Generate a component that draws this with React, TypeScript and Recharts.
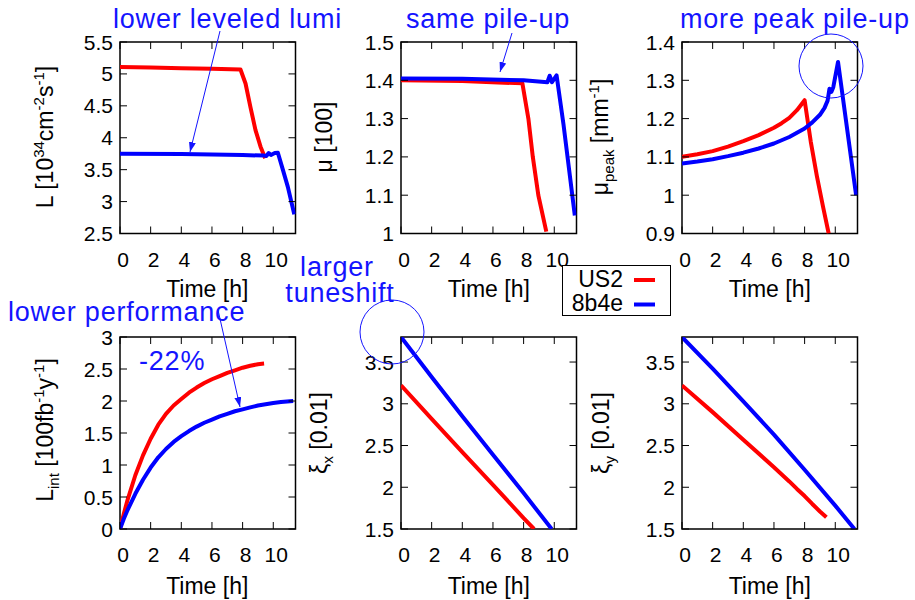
import React from 'react';
import { LineChart, Line, XAxis, YAxis, ReferenceArea } from 'recharts';

const seriesNames = ['US2', '8b4e'];
const seriesColors = ['#ff0000', '#0000ff'];
const timeTicks = [0, 2, 4, 6, 8, 10];
const X_MAX = 11.45;

// Panel 1: luminosity L [1e34 cm^-2 s^-1]
const lumiUS2 = [
  { t: 0, v: 5.11 }, { t: 2, v: 5.1 }, { t: 4, v: 5.09 }, { t: 6, v: 5.08 }, { t: 7.86, v: 5.07 },
  { t: 8.19, v: 4.85 }, { t: 8.51, v: 4.48 }, { t: 8.84, v: 4.12 }, { t: 9.17, v: 3.86 }, { t: 9.47, v: 3.68 },
];
const lumi8b4e = [
  { t: 0, v: 3.75 }, { t: 4, v: 3.745 }, { t: 8, v: 3.73 }, { t: 9.4, v: 3.72 }, { t: 9.55, v: 3.715 },
  { t: 9.7, v: 3.76 }, { t: 9.85, v: 3.73 }, { t: 10.1, v: 3.76 }, { t: 10.3, v: 3.765 },
  { t: 10.6, v: 3.52 }, { t: 10.95, v: 3.23 }, { t: 11.37, v: 2.8 },
];
const lumiTicks = [2.5, 3, 3.5, 4, 4.5, 5, 5.5];

// Panel 2: pile-up mu [100]
const muUS2 = [
  { t: 0, v: 1.4 }, { t: 4, v: 1.398 }, { t: 7.92, v: 1.392 }, { t: 8.31, v: 1.3 },
  { t: 8.6, v: 1.2 }, { t: 8.96, v: 1.1 }, { t: 9.48, v: 1.005 },
];
const mu8b4e = [
  { t: 0, v: 1.405 }, { t: 4, v: 1.404 }, { t: 8, v: 1.4 }, { t: 9.55, v: 1.395 }, { t: 9.7, v: 1.412 },
  { t: 9.85, v: 1.395 }, { t: 10.15, v: 1.413 }, { t: 10.6, v: 1.285 }, { t: 11.34, v: 1.047 },
];
const muTicks = [1, 1.1, 1.2, 1.3, 1.4, 1.5];

// Panel 3: peak pile-up density [mm^-1]
const peakUS2 = [
  { t: 0, v: 1.1 }, { t: 1, v: 1.107 }, { t: 2, v: 1.115 }, { t: 3, v: 1.127 }, { t: 4, v: 1.141 },
  { t: 5, v: 1.157 }, { t: 6, v: 1.176 }, { t: 6.5, v: 1.188 }, { t: 7, v: 1.202 }, { t: 7.5, v: 1.222 },
  { t: 8, v: 1.248 }, { t: 8.4, v: 1.14 }, { t: 8.8, v: 1.05 }, { t: 9.2, v: 0.97 }, { t: 9.57, v: 0.9 },
];
const peak8b4e = [
  { t: 0, v: 1.083 }, { t: 1, v: 1.088 }, { t: 2, v: 1.094 }, { t: 3, v: 1.102 }, { t: 4, v: 1.111 },
  { t: 5, v: 1.122 }, { t: 6, v: 1.135 }, { t: 7, v: 1.152 }, { t: 8, v: 1.174 }, { t: 8.5, v: 1.19 },
  { t: 9, v: 1.21 }, { t: 9.3, v: 1.228 }, { t: 9.5, v: 1.247 }, { t: 9.62, v: 1.278 }, { t: 9.75, v: 1.27 },
  { t: 9.87, v: 1.282 }, { t: 10.18, v: 1.348 }, { t: 11.36, v: 1.0 },
];
const peakTicks = [0.9, 1, 1.1, 1.2, 1.3, 1.4];

// Panel 4: integrated luminosity [100 fb^-1 y^-1]
const lintUS2 = [
  { t: 0, v: 0 }, { t: 0.25, v: 0.24 }, { t: 0.5, v: 0.46 }, { t: 1, v: 0.84 }, { t: 1.5, v: 1.15 },
  { t: 2, v: 1.41 }, { t: 2.5, v: 1.63 }, { t: 3, v: 1.8 }, { t: 3.5, v: 1.93 }, { t: 4, v: 2.03 },
  { t: 4.5, v: 2.13 }, { t: 5, v: 2.21 }, { t: 5.5, v: 2.28 }, { t: 6, v: 2.34 }, { t: 6.5, v: 2.39 },
  { t: 7, v: 2.44 }, { t: 7.5, v: 2.48 }, { t: 8, v: 2.52 }, { t: 8.5, v: 2.55 }, { t: 9, v: 2.575 },
  { t: 9.4, v: 2.585 },
];
const lint8b4e = [
  { t: 0, v: 0 }, { t: 0.25, v: 0.16 }, { t: 0.5, v: 0.3 }, { t: 1, v: 0.55 }, { t: 1.5, v: 0.77 },
  { t: 2, v: 0.96 }, { t: 2.5, v: 1.12 }, { t: 3, v: 1.25 }, { t: 3.5, v: 1.36 }, { t: 4, v: 1.45 },
  { t: 4.5, v: 1.53 }, { t: 5, v: 1.6 }, { t: 5.5, v: 1.66 }, { t: 6, v: 1.71 }, { t: 6.5, v: 1.76 },
  { t: 7, v: 1.8 }, { t: 7.5, v: 1.84 }, { t: 8, v: 1.87 }, { t: 8.5, v: 1.9 }, { t: 9, v: 1.93 },
  { t: 9.5, v: 1.95 }, { t: 10, v: 1.97 }, { t: 10.5, v: 1.985 }, { t: 11.3, v: 2.0 },
];
const lintTicks = [0, 0.5, 1, 1.5, 2, 2.5, 3];

// Panel 5: xi_x [0.01]
const xixUS2 = [
  { t: 0, v: 3.22 }, { t: 2, v: 2.82 }, { t: 4, v: 2.42 }, { t: 6, v: 2.03 }, { t: 8, v: 1.63 }, { t: 8.68, v: 1.5 },
];
const xix8b4e = [
  { t: 0, v: 3.8 }, { t: 2, v: 3.32 }, { t: 4, v: 2.85 }, { t: 6, v: 2.39 }, { t: 8, v: 1.93 }, { t: 9.83, v: 1.5 },
];
// Panel 6: xi_y [0.01]
const xiyUS2 = [
  { t: 0, v: 3.22 }, { t: 2, v: 2.9 }, { t: 4, v: 2.57 }, { t: 6, v: 2.24 }, { t: 7, v: 2.07 },
  { t: 7.5, v: 1.98 }, { t: 8, v: 1.895 }, { t: 8.5, v: 1.8 }, { t: 9, v: 1.71 }, { t: 9.42, v: 1.64 },
];
const xiy8b4e = [
  { t: 0, v: 3.8 }, { t: 2, v: 3.42 }, { t: 4, v: 3.03 }, { t: 6, v: 2.63 }, { t: 8, v: 2.21 },
  { t: 10, v: 1.78 }, { t: 11.25, v: 1.5 },
];
const xiTicks = [1.5, 2, 2.5, 3, 3.5];

const FONT = '"Liberation Sans", Arial, Helvetica, sans-serif';
const ANN = '#1414ff';

const fmt = (v: number) => String(Number(v.toFixed(2)));

function XTick(props: any) {
  const { x, y, payload, plotHeight } = props;
  return (
    <g>
      <line x1={x} y1={y} x2={x} y2={y - 7} stroke="#000" strokeWidth={1} />
      <line x1={x} y1={y - plotHeight} x2={x} y2={y - plotHeight + 7} stroke="#000" strokeWidth={1} />
      <text x={x + 3} y={y + 33} textAnchor="middle" fontSize={21} fontFamily={FONT} fill="#000">
        {fmt(payload.value)}
      </text>
    </g>
  );
}

function YTick(props: any) {
  const { x, y, payload, plotWidth } = props;
  return (
    <g>
      <line x1={x} y1={y} x2={x + 7} y2={y} stroke="#000" strokeWidth={1} />
      <line x1={x + plotWidth} y1={y} x2={x + plotWidth - 7} y2={y} stroke="#000" strokeWidth={1} />
      <text x={x - 7} y={y} dy="0.36em" textAnchor="end" fontSize={21} fontFamily={FONT} fill="#000">
        {fmt(payload.value)}
      </text>
    </g>
  );
}

type Pt = { t: number; v: number };

function Panel(p: { left: number; top: number; w: number; h: number; a: Pt[]; b: Pt[]; yDomain: [number, number]; yTicks: number[] }) {
  const mL = 80, mT = 10, mR = 10, xH = 70;
  return (
    <div style={{ position: 'absolute', left: p.left - mL, top: p.top - mT }}>
      <LineChart width={mL + p.w + mR} height={mT + p.h + xH} margin={{ top: mT, right: mR, left: 0, bottom: 0 }}>
        <XAxis
          type="number"
          dataKey="t"
          domain={[0, X_MAX]}
          ticks={timeTicks}
          allowDataOverflow
          interval={0}
          height={xH}
          tickSize={0}
          tickMargin={0}
          axisLine={false}
          tickLine={false}
          tick={<XTick plotHeight={p.h} />}
        />
        <YAxis
          type="number"
          domain={p.yDomain}
          ticks={p.yTicks}
          allowDataOverflow
          interval={0}
          width={mL}
          tickSize={0}
          tickMargin={0}
          axisLine={false}
          tickLine={false}
          tick={<YTick plotWidth={p.w} />}
        />
        <ReferenceArea x1={0} x2={X_MAX} y1={p.yDomain[0]} y2={p.yDomain[1]} fill="none" fillOpacity={0} stroke="#000" strokeWidth={1.5} ifOverflow="visible" />
        <Line data={p.a} dataKey="v" name={seriesNames[0]} stroke={seriesColors[0]} strokeWidth={4} dot={false} isAnimationActive={false} strokeLinejoin="round" />
        <Line data={p.b} dataKey="v" name={seriesNames[1]} stroke={seriesColors[1]} strokeWidth={4} dot={false} isAnimationActive={false} strokeLinejoin="round" />
      </LineChart>
    </div>
  );
}

const COLS = [119.5, 401, 682];
const FW = 175.5;
const ROW1 = 42, RH1 = 191.5;
const ROW2 = 336.5, RH2 = 192;

export default function App() {
  const lab = { fontSize: 23, fontFamily: FONT, fill: '#000' } as const;
  const ann = { fontSize: 27, fontFamily: FONT, fill: ANN, letterSpacing: 0.8 } as const;
  return (
    <div style={{ position: 'absolute', left: 0, top: 0, width: 915, height: 600, background: '#fff', overflow: 'hidden' }}>
      <Panel left={COLS[0]} top={ROW1} w={FW} h={RH1} a={lumiUS2} b={lumi8b4e} yDomain={[2.5, 5.5]} yTicks={lumiTicks} />
      <Panel left={COLS[1]} top={ROW1} w={FW} h={RH1} a={muUS2} b={mu8b4e} yDomain={[1, 1.5]} yTicks={muTicks} />
      <Panel left={COLS[2]} top={ROW1} w={FW} h={RH1} a={peakUS2} b={peak8b4e} yDomain={[0.9, 1.4]} yTicks={peakTicks} />
      <Panel left={COLS[0]} top={ROW2} w={FW} h={RH2} a={lintUS2} b={lint8b4e} yDomain={[0, 3]} yTicks={lintTicks} />
      <Panel left={COLS[1]} top={ROW2} w={FW} h={RH2} a={xixUS2} b={xix8b4e} yDomain={[1.5, 3.8]} yTicks={xiTicks} />
      <Panel left={COLS[2]} top={ROW2} w={FW} h={RH2} a={xiyUS2} b={xiy8b4e} yDomain={[1.5, 3.8]} yTicks={xiTicks} />

      <svg width={915} height={600} style={{ position: 'absolute', left: 0, top: 0, pointerEvents: 'none' }}>
        <defs>
          <marker id="ah" markerWidth={10} markerHeight={7} refX={10} refY={3.5} orient="auto" markerUnits="userSpaceOnUse">
            <path d="M0,0 L10,3.5 L0,7 z" fill={ANN} />
          </marker>
        </defs>

        {/* axis titles */}
        {COLS.map((cx, i) => (
          <text key={'t1' + i} x={cx + FW / 2} y={297} textAnchor="middle" {...lab}>Time [h]</text>
        ))}
        {COLS.map((cx, i) => (
          <text key={'t2' + i} x={cx + FW / 2} y={594} textAnchor="middle" {...lab}>Time [h]</text>
        ))}
        <text transform="translate(53,137) rotate(-90)" textAnchor="middle" {...lab}>
          L [10<tspan dy={-9} fontSize={15}>34</tspan><tspan dy={9}>cm</tspan><tspan dy={-9} fontSize={15}>-2</tspan><tspan dy={9}>s</tspan><tspan dy={-9} fontSize={15}>-1</tspan><tspan dy={9}>]</tspan>
        </text>
        <text transform="translate(332,137) rotate(-90)" textAnchor="middle" {...lab}>μ [100]</text>
        <text transform="translate(608,137) rotate(-90)" textAnchor="middle" {...lab}>
          μ<tspan dy={6} fontSize={15}>peak</tspan><tspan dy={-6}> [mm</tspan><tspan dy={-9} fontSize={15}>-1</tspan><tspan dy={9}>]</tspan>
        </text>
        <text transform="translate(53,430) rotate(-90)" textAnchor="middle" {...lab}>
          L<tspan dy={6} fontSize={15}>int</tspan><tspan dy={-6}> [100fb</tspan><tspan dy={-9} fontSize={15}>-1</tspan><tspan dy={9}>y</tspan><tspan dy={-9} fontSize={15}>-1</tspan><tspan dy={9}>]</tspan>
        </text>
        <text transform="translate(327,433) rotate(-90)" textAnchor="middle" {...lab}>
          ξ<tspan dy={6} fontSize={15}>x</tspan><tspan dy={-6}> [0.01]</tspan>
        </text>
        <text transform="translate(609,433) rotate(-90)" textAnchor="middle" {...lab}>
          ξ<tspan dy={6} fontSize={15}>y</tspan><tspan dy={-6}> [0.01]</tspan>
        </text>

        {/* legend */}
        <rect x={562.5} y={265.5} width={108} height={50} fill="#fff" stroke="#000" strokeWidth={1} />
        <text x={623} y={287} textAnchor="end" {...lab}>{seriesNames[0]}</text>
        <text x={623} y={311} textAnchor="end" {...lab}>{seriesNames[1]}</text>
        <line x1={634} y1={280} x2={655} y2={280} stroke={seriesColors[0]} strokeWidth={4} />
        <line x1={634} y1={304.5} x2={655} y2={304.5} stroke={seriesColors[1]} strokeWidth={4} />

        {/* annotations */}
        <text x={113} y={28} {...ann}>lower leveled lumi</text>
        <text x={406} y={28} {...ann}>same pile-up</text>
        <text x={680} y={28} {...ann}>more peak pile-up</text>
        <text x={337} y={276} textAnchor="middle" {...ann}>larger</text>
        <text x={340} y={302} textAnchor="middle" {...ann}>tuneshift</text>
        <text x={8} y={321} {...ann}>lower performance</text>
        <text x={139} y={370} {...ann}>-22%</text>

        <line x1={220} y1={31} x2={190} y2={152} stroke={ANN} strokeWidth={1} markerEnd="url(#ah)" />
        <line x1={512} y1={33} x2={500} y2={72} stroke={ANN} strokeWidth={1} markerEnd="url(#ah)" />
        <line x1={218} y1={310} x2={240} y2={407} stroke={ANN} strokeWidth={1} markerEnd="url(#ah)" />
        <circle cx={831} cy={66} r={32} fill="none" stroke={ANN} strokeWidth={1} />
        <circle cx={392} cy={332} r={32} fill="none" stroke={ANN} strokeWidth={1} />
      </svg>
    </div>
  );
}
